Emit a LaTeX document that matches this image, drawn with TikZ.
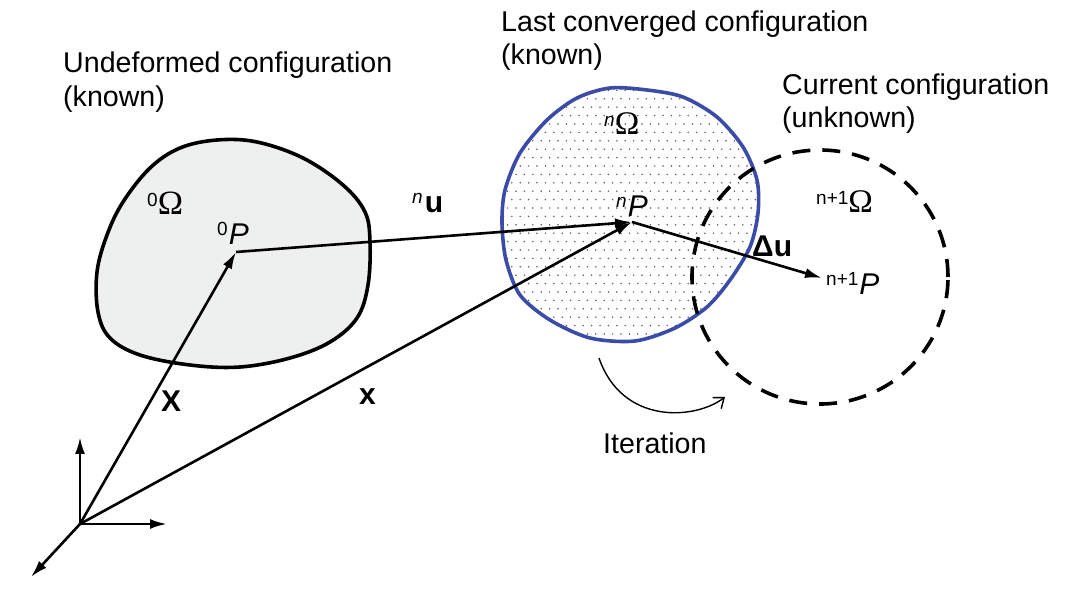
\documentclass[tikz,border=0pt]{standalone}
\usepackage{fontspec}
\setmainfont{Liberation Sans}
\newfontfamily\omegafont{Liberation Serif}
\usetikzlibrary{arrows.meta}
\definecolor{blobgray}{HTML}{EEEFEF}
\definecolor{blobblue}{HTML}{3A4BA8}
\definecolor{dotgray}{HTML}{5A5A5A}
\begin{document}
\begin{tikzpicture}[x=1pt,y=-1pt,
  vec/.style={line width=2.6pt,-{Latex[length=17pt,width=10pt]}},
  outline/.style={line width=3.6pt},
  lbl/.style={inner sep=0pt,anchor=base west,font=\fontsize{28.6}{28.6}\selectfont},
  sym/.style={inner sep=0pt,anchor=base west,font=\fontsize{30}{30}\selectfont},
]
\useasboundingbox (0,0) rectangle (1080,593);

% undeformed body
\draw[outline,fill=blobgray] plot[smooth cycle,tension=0.6] coordinates {
 (217,140) (257,142) (303,158) (343,185) (365,212) (370,242) (368,285)
 (357,318) (330,342) (290,358) (240,367) (190,365) (140,355) (110,338)
 (98,312) (97,272) (107,235) (123,202) (150,168) (180,148)};

% last converged body (dotted)
\def\bluepath{plot[smooth cycle,tension=0.5] coordinates {
 (502,223) (505,190) (520,153) (547,120) (577,98) (610,88) (647,90)
 (683,97) (717,117) (743,147) (757,180) (758,213) (750,247) (730,280)
 (707,307) (675,328) (635,341) (590,338) (550,320) (520,295)
 (506,260)}}
\begin{scope}
  \clip \bluepath;
  \foreach \j in {0,...,32}{
    \foreach \i in {0,...,32}{
      \fill[dotgray] ({495+\i*8.4+mod(\j,2)*4.2},{82+\j*8.4}) circle (0.85pt);
    }
  }
\end{scope}
\draw[outline,draw=blobblue] \bluepath;

% current configuration (dashed)
\draw[line width=3.6pt,dash pattern=on 18pt off 12pt] (820,277) ellipse (128pt and 127pt);

% points
\coordinate (O) at (80,524);
\coordinate (P0) at (236,252);
\coordinate (Pn) at (632,222);
\coordinate (Pn1) at (822,278);
\coordinate (ax1) at (80,437);
\coordinate (ax2) at (167,524);
\coordinate (ax3) at (31,577);

% axes
\draw[vec] (O) -- (ax1);
\draw[vec] (O) -- (ax2);
\draw[vec] (O) -- (ax3);

% vectors
\draw[vec] (O) -- (P0);
\draw[vec] (O) -- (Pn);
\draw[vec] (P0) -- (Pn);
\draw[vec] (Pn) -- (Pn1);

% iteration arrow
\coordinate (it1) at (599,358);
\coordinate (it2) at (725,397);
\draw[line width=1.4pt,-{Straight Barb[length=9pt,width=14pt]}] (it1) .. controls (622,425) and (695,420) .. (it2);

% titles
\node[lbl] (t1) at (63,73) {Undeformed configuration};
\node[lbl] (t1b) at (63,107) {(known)};
\node[lbl] (t2) at (501,32) {Last converged configuration};
\node[lbl] (t2b) at (501,65) {(known)};
\node[lbl] (t3) at (782,95) {Current configuration};
\node[lbl] (t3b) at (782,128) {(unknown)};
\node[lbl] (it) at (603,454) {Iteration};

% symbols
\node[sym] (om0) at (147,215) {\raisebox{8pt}{\fontsize{19}{19}\selectfont 0}{\omegafont\fontsize{34}{34}\selectfont Ω}};
\node[sym] (p0) at (217,245) {\raisebox{9pt}{\fontsize{19}{19}\selectfont 0}\kern1pt\itshape P};
\node[sym] (omn) at (604,135) {\raisebox{8pt}{\fontsize{19}{19}\selectfont\itshape n}{\omegafont\fontsize{33}{33}\selectfont Ω}};
\node[sym] (pn) at (616,217) {\raisebox{9pt}{\fontsize{19}{19}\selectfont\itshape n}\kern1pt\itshape P};
\node[sym] (omn1) at (816,213) {\raisebox{8pt}{\fontsize{19}{19}\selectfont n+1}{\omegafont\fontsize{33}{33}\selectfont Ω}};
\node[sym] (pn1) at (826,295) {\raisebox{9pt}{\fontsize{19}{19}\selectfont n+1}\kern1pt\itshape P};
\node[sym] (nu) at (412,213) {\raisebox{9pt}{\fontsize{19}{19}\selectfont\itshape n}\kern2pt\bfseries u};
\node[sym] (du) at (752,257) {\bfseries Δu};
\node[sym] (X) at (161,412) {\bfseries X};
\node[sym] (x) at (359,405) {\bfseries x};
\end{tikzpicture}
\end{document}
